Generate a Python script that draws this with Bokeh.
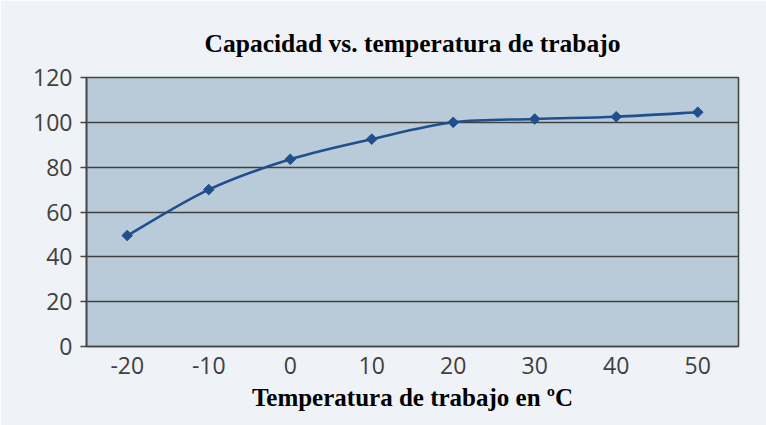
import numpy as np
from bokeh.plotting import figure
from bokeh.models import Range1d, FixedTicker, ColumnDataSource
from bokeh.embed import file_html
from bokeh.resources import INLINE

# ---- data ----
temps = [-20, -10, 0, 10, 20, 30, 40, 50]
capacity = [49.5, 70, 83.5, 92.5, 100, 101.5, 102.5, 104.5]
y_ticks = [0, 20, 40, 60, 80, 100, 120]
x_ticks = temps
x_tick_labels = ["-20", "-10", "0", "10", "20", "30", "40", "50"]
title_text = "Capacidad vs. temperatura de trabajo"
x_label = "Temperatura de trabajo en ºC"

p = figure(width=766, height=425, output_backend="svg", toolbar_location=None,
           x_range=Range1d(-25, 55), y_range=Range1d(0, 120),
           min_border_left=86, min_border_right=28, min_border_top=77,
           min_border_bottom=79)

p.border_fill_color = "#eff2f7"
p.background_fill_color = "#b9cbd9"
p.outline_line_color = "#454545"
p.outline_line_width = 1.6

# grid
p.xgrid.visible = False
p.ygrid.ticker = FixedTicker(ticks=y_ticks)
p.ygrid.grid_line_color = "#404040"
p.ygrid.grid_line_width = 1.6

# axes
p.yaxis.ticker = FixedTicker(ticks=y_ticks)
p.xaxis.ticker = FixedTicker(ticks=x_ticks)
p.xaxis.major_label_overrides = {t: s for t, s in zip(x_ticks, x_tick_labels)}
for ax in (p.xaxis, p.yaxis):
    ax.major_label_text_font = "Open Sans"
    ax.major_label_text_font_size = "23px"
    ax.major_label_text_color = "#404040"
    ax.axis_line_color = "#454545"
    ax.axis_line_width = 1.6
    ax.minor_tick_line_color = None
p.yaxis.major_tick_in = 0
p.yaxis.major_tick_out = 6
p.yaxis.major_tick_line_color = "#454545"
p.yaxis.major_tick_line_width = 1.6
p.yaxis.major_label_standoff = 8
p.xaxis.major_tick_line_color = None
p.xaxis.major_tick_in = 0
p.xaxis.major_tick_out = 0
p.xaxis.major_label_standoff = 10

p.xaxis.axis_label = x_label
p.xaxis.axis_label_text_font = "Liberation Serif"
p.xaxis.axis_label_text_font_style = "bold"
p.xaxis.axis_label_text_font_size = "25px"
p.xaxis.axis_label_text_color = "#000000"
p.xaxis.axis_label_standoff = 7

p.title.text = title_text
p.title.align = "center"
p.title.text_font = "Liberation Serif"
p.title.text_font_style = "bold"
p.title.text_font_size = "25.5px"
p.title.text_color = "#000000"
p.title.standoff = 40

# smoothed line (Catmull-Rom style bezier through the data points)
x = np.array(temps, dtype=float)
y = np.array(capacity, dtype=float)
xp = np.concatenate([[x[0]], x, [x[-1]]])
yp = np.concatenate([[y[0]], y, [y[-1]]])
t = 1.0 / 6.0
n = len(x) - 1
seg = ColumnDataSource(dict(
    x0=x[:-1], y0=y[:-1], x1=x[1:], y1=y[1:],
    cx0=x[:-1] + (xp[2:n + 2] - xp[0:n]) * t,
    cy0=y[:-1] + (yp[2:n + 2] - yp[0:n]) * t,
    cx1=x[1:] - (xp[3:n + 3] - xp[1:n + 1]) * t,
    cy1=y[1:] - (yp[3:n + 3] - yp[1:n + 1]) * t,
))
p.bezier(x0="x0", y0="y0", x1="x1", y1="y1", cx0="cx0", cy0="cy0",
         cx1="cx1", cy1="cy1", source=seg, line_color="#1f4f8c", line_width=2.6)
p.scatter(temps, capacity, marker="square", angle=np.pi / 4, size=7.5,
          fill_color="#1f4f8c", line_color="#1f4f8c")

open("out.html", "w").write(file_html(p, INLINE))
